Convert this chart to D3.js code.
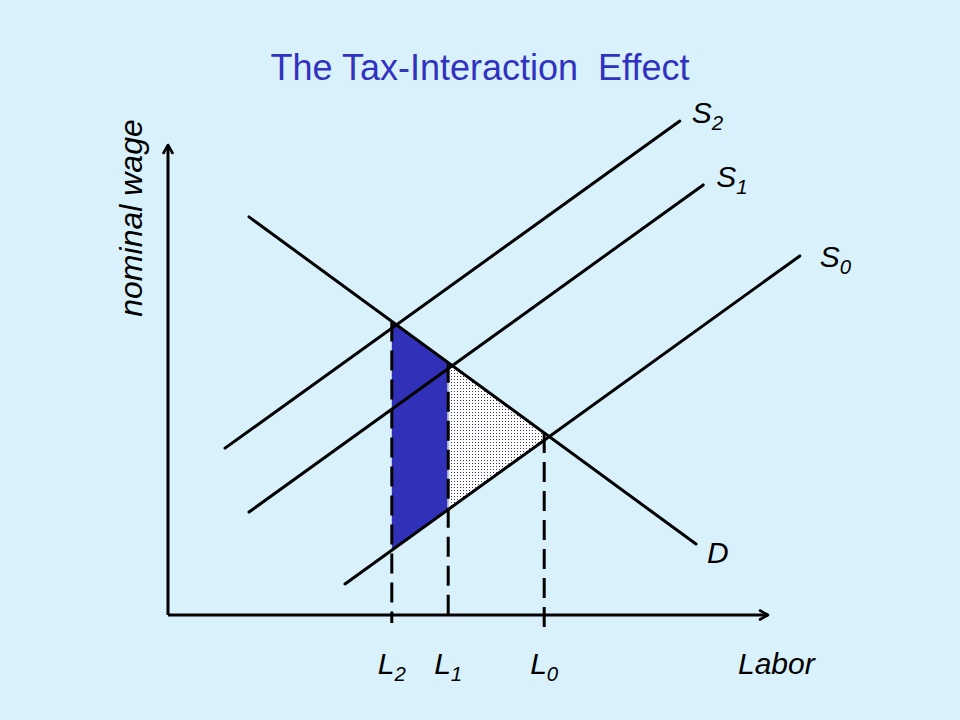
<!DOCTYPE html>
<html>
<head>
<meta charset="utf-8">
<script src="https://cdn.jsdelivr.net/npm/d3@7"></script>
<style>
  html, body { margin: 0; padding: 0; background: #d9f1fb; }
  svg { display: block; }
  text { font-family: "Liberation Sans", Arial, sans-serif; }
</style>
</head>
<body>
<script>
// ---------- data (diagram units: labor 0..100, wage 0..100) ----------
const curveNames  = ["D", "S2", "S1", "S0"];
const curveStartX = [13.5, 9.5, 13.5, 29.5];
const curveStartY = [84.7, 35.5, 21.9, 6.6];
const curveEndX   = [88.0, 85.3, 89.2, 105.3];
const curveEndY   = [15.1, 105.1, 91.5, 76.4];

const laborNames  = ["L2", "L1", "L0"];
const laborValues = [37.3, 46.7, 62.7];
const dashBottom  = [-1.7, -1.7, -3.2];

const titleText = "The Tax-Interaction\u00a0 Effect";
const xAxisLabel = "Labor";
const yAxisLabel = "nominal wage";

// ---------- layout ----------
const W = 960, H = 720;
const x = d3.scaleLinear().domain([0, 100]).range([168, 768]);
const y = d3.scaleLinear().domain([0, 100]).range([615, 145]);

const svg = d3.select("body").append("svg").attr("width", W).attr("height", H);
svg.append("rect").attr("width", W).attr("height", H).attr("fill", "#d9f1fb");

const defs = svg.append("defs");
const pat = defs.append("pattern").attr("id", "dots").attr("patternUnits", "userSpaceOnUse")
  .attr("width", 3).attr("height", 3);
pat.append("rect").attr("width", 3).attr("height", 3).attr("fill", "#ffffff");
pat.append("rect").attr("x", 1).attr("y", 1).attr("width", 1).attr("height", 1).attr("fill", "#3a3a6a");

defs.append("marker").attr("id", "arrow").attr("viewBox", "0 0 12 12")
  .attr("refX", 10).attr("refY", 6).attr("markerWidth", 12).attr("markerHeight", 12)
  .attr("markerUnits", "userSpaceOnUse").attr("orient", "auto")
  .append("path").attr("d", "M2,1.5 L10,6 L2,10.5").attr("fill", "none")
  .attr("stroke", "#000").attr("stroke-width", 2.6).attr("stroke-linecap", "round").attr("stroke-linejoin", "round");

// curve helpers
const curves = curveNames.map((n, i) => ({
  name: n, x0: curveStartX[i], y0: curveStartY[i], x1: curveEndX[i], y1: curveEndY[i]
}));
const byName = Object.fromEntries(curves.map(c => [c.name, c]));
const valAt = (c, lx) => c.y0 + (c.y1 - c.y0) * (lx - c.x0) / (c.x1 - c.x0);
const D = byName["D"], S0 = byName["S0"];

// title
svg.append("text").attr("x", 480).attr("y", 80).attr("text-anchor", "middle")
  .attr("font-size", 36).attr("fill", "#3232c0").text(titleText);

// shaded areas
const L2 = laborValues[0], L1 = laborValues[1];
const blue = [[L2, valAt(D, L2)], [L1, valAt(D, L1)], [L1, valAt(S0, L1)], [L2, valAt(S0, L2)]];
svg.append("path")
  .attr("d", d3.line().x(d => x(d[0])).y(d => y(d[1]))(blue) + "Z")
  .attr("fill", "#3030b8");

// dotted triangle: L1 on D, D ∩ S0, L1 on S0
const sD = (D.y1 - D.y0) / (D.x1 - D.x0), s0 = (S0.y1 - S0.y0) / (S0.x1 - S0.x0);
const xi = (S0.y0 - s0 * S0.x0 - (D.y0 - sD * D.x0)) / (sD - s0);
const tri = [[L1, valAt(D, L1)], [xi, valAt(D, xi)], [L1, valAt(S0, L1)]];
svg.append("path")
  .attr("d", d3.line().x(d => x(d[0])).y(d => y(d[1]))(tri) + "Z")
  .attr("fill", "url(#dots)").attr("stroke", "#b8c4e6").attr("stroke-width", 2);

// dashed verticals
laborValues.forEach((lv, i) => {
  const top = valAt(D, lv);
  svg.append("line")
    .attr("x1", x(lv)).attr("x2", x(lv))
    .attr("y1", y(top)).attr("y2", y(dashBottom[i]))
    .attr("stroke", "#000").attr("stroke-width", 3).attr("stroke-dasharray", "20,9");
});

// curves
svg.selectAll("line.curve").data(curves).enter().append("line").attr("class", "curve")
  .attr("x1", d => x(d.x0)).attr("y1", d => y(d.y0))
  .attr("x2", d => x(d.x1)).attr("y2", d => y(d.y1))
  .attr("stroke", "#000").attr("stroke-width", 3).attr("stroke-linecap", "round");

// axes
svg.append("line").attr("x1", x(0)).attr("y1", y(0)).attr("x2", x(0)).attr("y2", y(100))
  .attr("stroke", "#000").attr("stroke-width", 3).attr("marker-end", "url(#arrow)");
svg.append("line").attr("x1", x(0)).attr("y1", y(0)).attr("x2", x(100)).attr("y2", y(0))
  .attr("stroke", "#000").attr("stroke-width", 3).attr("marker-end", "url(#arrow)");

// labels with subscripts
function subLabel(px, py, name, anchor, size) {
  const t = svg.append("text").attr("x", px).attr("y", py).attr("text-anchor", anchor)
    .attr("font-size", size).attr("font-style", "italic").attr("fill", "#000");
  t.append("tspan").text(name[0]);
  if (name.length > 1) {
    t.append("tspan").attr("font-size", size * 0.68).attr("dy", 7).text(name.slice(1));
  }
  return t;
}

const curveLabelOffset = { D: [11, 19], S2: [12, 2], S1: [13, 2], S0: [20, 11] };
curves.forEach(c => {
  const o = curveLabelOffset[c.name];
  subLabel(x(c.x1) + o[0], y(c.y1) + o[1], c.name, "start", 30);
});

laborValues.forEach((lv, i) => {
  subLabel(x(lv), 674, laborNames[i], "middle", 30);
});

svg.append("text").attr("x", x(95)).attr("y", 674).attr("font-size", 30)
  .attr("font-style", "italic").attr("fill", "#000").text(xAxisLabel);

svg.append("text").attr("transform", "translate(142,218) rotate(-90)")
  .attr("text-anchor", "middle").attr("font-size", 32).attr("font-style", "italic")
  .attr("fill", "#000").text(yAxisLabel);
</script>
</body>
</html>
